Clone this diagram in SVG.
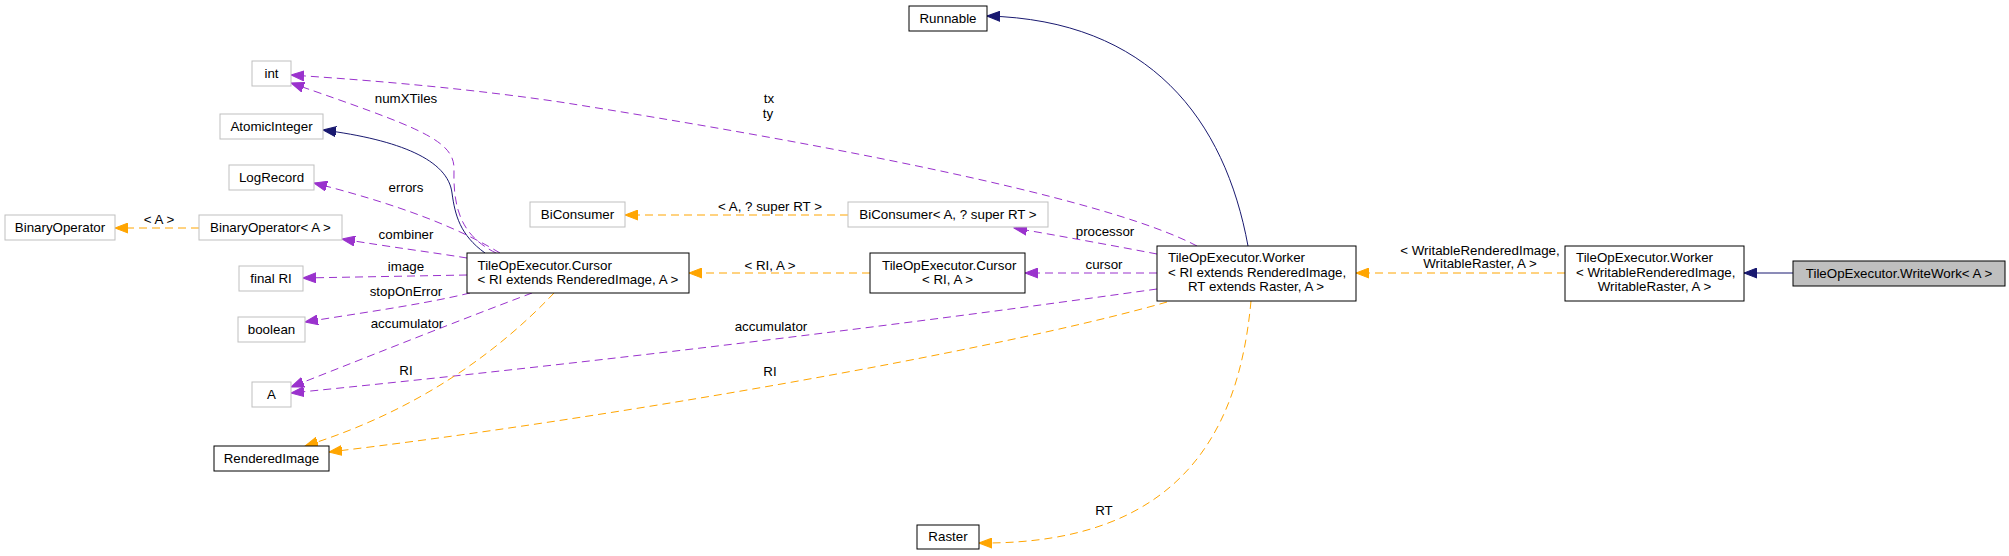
<svg xmlns="http://www.w3.org/2000/svg" width="2009" height="556" viewBox="0 0 2009 556">
<style>
text{font-family:"Liberation Sans",Arial,sans-serif;font-size:13.33px;fill:#000}
.n rect{fill:#fff;stroke:#000;stroke-width:1}
.g rect{stroke:#bfbfbf}
.m rect{fill:#bfbfbf}
.c{text-anchor:middle}
.e path{fill:none;stroke-width:1}
.nv{stroke:#191970}
.pu{stroke:#9a32cd;stroke-dasharray:8,5}
.or{stroke:#ffa500;stroke-dasharray:8,5}
</style>
<defs>
<marker id="aN" markerUnits="userSpaceOnUse" markerWidth="14" markerHeight="11" refX="13" refY="5" orient="auto" viewBox="0 0 14 10"><path d="M0,0 L13,5 L0,10 z" fill="#191970" stroke="#191970"/></marker>
<marker id="aP" markerUnits="userSpaceOnUse" markerWidth="14" markerHeight="11" refX="13" refY="5" orient="auto" viewBox="0 0 14 10"><path d="M0,0 L13,5 L0,10 z" fill="#9a32cd" stroke="#9a32cd"/></marker>
<marker id="aO" markerUnits="userSpaceOnUse" markerWidth="14" markerHeight="11" refX="13" refY="5" orient="auto" viewBox="0 0 14 10"><path d="M0,0 L13,5 L0,10 z" fill="#ffa500" stroke="#ffa500"/></marker>
</defs>

<g id="edges" class="e">
<path class="nv" d="M1793,273 L1744,273" marker-end="url(#aN)"/>
<path class="nv" d="M1248,246 C1225,120 1150,20 987,16" marker-end="url(#aN)"/>
<path class="nv" d="M485,253 C460,235 455,215 452,193 C448,160 400,140 323,130" marker-end="url(#aN)"/>
<path class="or" d="M1565,273 L1356,273" marker-end="url(#aO)"/>
<path class="pu" d="M1157,273 L1025,273" marker-end="url(#aP)"/>
<path class="or" d="M870,273 L689,273" marker-end="url(#aO)"/>
<path class="pu" d="M1157,254 C1110,245 1060,236 1014,228" marker-end="url(#aP)"/>
<path class="or" d="M848,215 L625,215" marker-end="url(#aO)"/>
<path class="pu" d="M1197,246 C1100,195 800,140 560,102 C450,86 350,79 291,75" marker-end="url(#aP)"/>
<path class="pu" d="M1157,289 C900,325 600,362 291,393" marker-end="url(#aP)"/>
<path class="or" d="M1167,302 C1000,350 600,420 329,452" marker-end="url(#aO)"/>
<path class="or" d="M1251,301 C1240,420 1190,545 979,543" marker-end="url(#aO)"/>
<path class="pu" d="M496,253 C462,236 453,210 454,170 C455,140 420,128 291,83" marker-end="url(#aP)"/>
<path class="pu" d="M500,253 C470,235 420,210 314,183" marker-end="url(#aP)"/>
<path class="pu" d="M467,258 C430,252 390,247 342,239" marker-end="url(#aP)"/>
<path class="pu" d="M467,275 L303,278" marker-end="url(#aP)"/>
<path class="pu" d="M470,293 C420,305 360,313 305,322" marker-end="url(#aP)"/>
<path class="pu" d="M532,293 C460,320 380,352 291,387" marker-end="url(#aP)"/>
<path class="or" d="M554,293 C500,350 420,410 305,446" marker-end="url(#aO)"/>
<path class="or" d="M199,228 L115,228" marker-end="url(#aO)"/>
</g>

<g id="edge-labels" class="c">
<text x="1480" y="255" class="c">&lt; WritableRenderedImage,</text>
<text x="1480" y="268" class="c">WritableRaster, A &gt;</text>
<text x="1104" y="269" class="c">cursor</text>
<text x="770" y="270" class="c">&lt; RI, A &gt;</text>
<text x="1105" y="236" class="c">processor</text>
<text x="770" y="211" class="c">&lt; A, ? super RT &gt;</text>
<text x="769" y="103" class="c">tx</text>
<text x="768" y="118" class="c">ty</text>
<text x="771" y="331" class="c">accumulator</text>
<text x="770" y="376" class="c">RI</text>
<text x="1104" y="515" class="c">RT</text>
<text x="406" y="103" class="c">numXTiles</text>
<text x="406" y="192" class="c">errors</text>
<text x="406" y="239" class="c">combiner</text>
<text x="406" y="271" class="c">image</text>
<text x="406" y="296" class="c">stopOnError</text>
<text x="407" y="328" class="c">accumulator</text>
<text x="406" y="375" class="c">RI</text>
<text x="159" y="224" class="c">&lt; A &gt;</text>
</g>

<g id="WriteWork" class="n m"><rect x="1793" y="261" width="212" height="25"/><text x="1899" y="278" class="c">TileOpExecutor.WriteWork&lt; A &gt;</text></g>
<g id="WorkerWritable" class="n"><rect x="1565" y="246" width="179" height="55"/><text x="1576" y="262">TileOpExecutor.Worker</text><text x="1576" y="277">&lt; WritableRenderedImage,</text><text x="1654.5" y="291" class="c">WritableRaster, A &gt;</text></g>
<g id="Worker" class="n"><rect x="1157" y="246" width="199" height="55"/><text x="1168" y="262">TileOpExecutor.Worker</text><text x="1168" y="277">&lt; RI extends RenderedImage,</text><text x="1256" y="291" class="c">RT extends Raster, A &gt;</text></g>
<g id="Runnable" class="n"><rect x="909" y="6" width="78" height="25"/><text x="948" y="23" class="c">Runnable</text></g>
<g id="CursorRIA" class="n"><rect x="870" y="253" width="155" height="40"/><text x="882" y="270">TileOpExecutor.Cursor</text><text x="947.5" y="284" class="c">&lt; RI, A &gt;</text></g>
<g id="BiConsumerA" class="n g"><rect x="848" y="202" width="200" height="25"/><text x="948" y="219" class="c">BiConsumer&lt; A, ? super RT &gt;</text></g>
<g id="BiConsumer" class="n g"><rect x="530" y="202" width="95" height="25"/><text x="577.5" y="219" class="c">BiConsumer</text></g>
<g id="Raster" class="n"><rect x="917" y="525" width="62" height="24"/><text x="948" y="541" class="c">Raster</text></g>
<g id="Cursor" class="n"><rect x="467" y="253" width="222" height="40"/><text x="477.5" y="270">TileOpExecutor.Cursor</text><text x="477.5" y="284">&lt; RI extends RenderedImage, A &gt;</text></g>
<g id="int" class="n g"><rect x="252" y="61" width="39" height="25"/><text x="271.5" y="78" class="c">int</text></g>
<g id="AtomicInteger" class="n g"><rect x="220" y="114" width="103" height="25"/><text x="271.5" y="131" class="c">AtomicInteger</text></g>
<g id="LogRecord" class="n g"><rect x="229" y="165" width="85" height="25"/><text x="271.5" y="182" class="c">LogRecord</text></g>
<g id="BinaryOperator" class="n g"><rect x="5" y="215" width="110" height="25"/><text x="60" y="232" class="c">BinaryOperator</text></g>
<g id="BinaryOperatorA" class="n g"><rect x="199" y="215" width="143" height="25"/><text x="270.5" y="232" class="c">BinaryOperator&lt; A &gt;</text></g>
<g id="finalRI" class="n g"><rect x="239" y="266" width="64" height="25"/><text x="271" y="283" class="c">final RI</text></g>
<g id="boolean" class="n g"><rect x="238" y="317" width="67" height="25"/><text x="271.5" y="334" class="c">boolean</text></g>
<g id="A" class="n g"><rect x="252" y="382" width="39" height="25"/><text x="271.5" y="399" class="c">A</text></g>
<g id="RenderedImage" class="n"><rect x="214" y="446" width="115" height="25"/><text x="271.5" y="463" class="c">RenderedImage</text></g>
</svg>
